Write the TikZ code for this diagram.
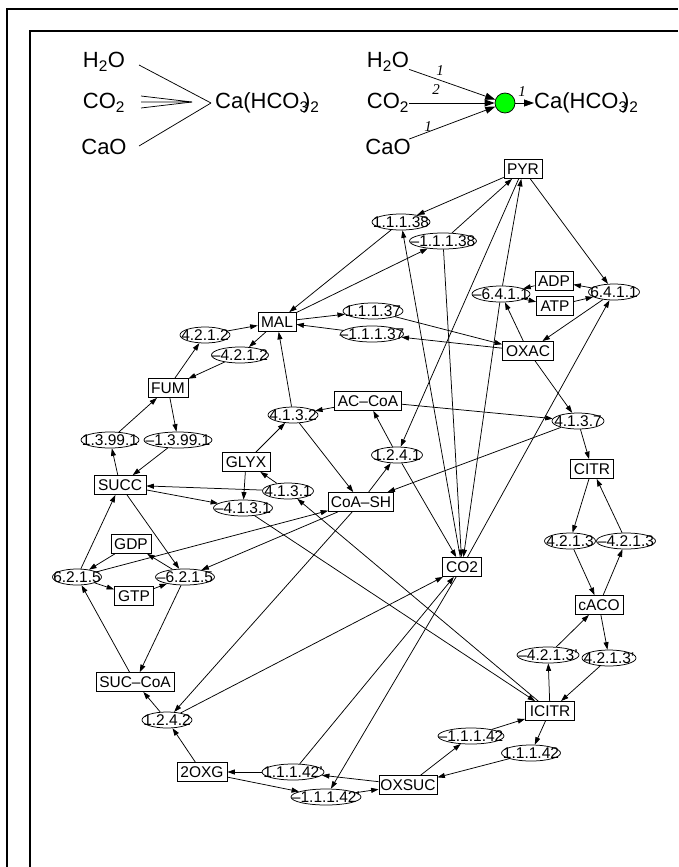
\documentclass[tikz,border=0pt]{standalone}
\usepackage{fontspec}
\setmainfont{Liberation Sans}
\newfontfamily\labelfont{Liberation Serif}
\usetikzlibrary{arrows.meta,shapes.geometric}

% text of zero size, centred on the node centre
\newcommand\ctr[1]{\makebox[0pt]{\smash{\raisebox{-0.36em}{#1}}}}

\tikzset{
  met/.style={draw, rectangle, inner sep=0pt, minimum height=19pt,
              minimum width=#1, line width=0.75pt},
  enz/.style={draw, ellipse, inner sep=0pt, minimum height=16pt,
              minimum width=#1, line width=0.75pt},
  arc/.style={-{Triangle[length=7.5pt,width=5pt]}, line width=0.75pt},
  bigarc/.style={-{Triangle[length=10pt,width=7pt]}, line width=0.75pt},
  plain/.style={line width=0.75pt},
  legend/.style={inner sep=0pt, font=\fontsize{22}{22}\selectfont},
  stoich/.style={inner sep=0pt, font=\labelfont\itshape\fontsize{15}{15}\selectfont},
  frame/.style={line width=2.5pt},
}

\begin{document}
\begin{tikzpicture}[x=1pt, y=-1pt, font=\fontsize{15.5}{15.5}\selectfont]
\useasboundingbox (0,0) rectangle (678,867);

% double frame
\draw[frame] (7,867) -- (7,9) -- (678,9);
\draw[frame] (30,867) -- (30,31) -- (678,31);

% ---------- legend, left: hyperedge drawn as a star ----------
\node[legend] (lh) at (104,62) {H\textsubscript{2}O};
\node[legend] (lc) at (104,103) {CO\textsubscript{2}};
\node[legend] (lo) at (104,147) {CaO};
\node[legend, anchor=west] (lp) at (215,103) {Ca(HCO\textsubscript{3}\kern-0.25em)\textsubscript{2}};
\coordinate (la) at (211,103);
\coordinate (lh1) at (139,65);
\coordinate (lo1) at (139,146);
\coordinate (lc1) at (141,96);
\coordinate (lc2) at (141,102);
\coordinate (lc3) at (141,108);
\coordinate (lz) at (192,102);
\draw[plain] (lh1) -- (la);
\draw[plain] (lo1) -- (la);
\draw[plain] (lc1) -- (lz) -- (lc2);
\draw[plain] (lc3) -- (lz);

% ---------- legend, right: hyperedge drawn with a reaction node ----------
\node[legend] (rh) at (388,62) {H\textsubscript{2}O};
\node[legend] (rc) at (388,103) {CO\textsubscript{2}};
\node[legend] (ro) at (388,147) {CaO};
\node[circle, draw, fill=green, inner sep=0pt, minimum size=20pt, line width=0.75pt] (g) at (505,103) {};
\node[legend, anchor=west] (rp) at (534,103) {Ca(HCO\textsubscript{3}\kern-0.25em)\textsubscript{2}};
\draw[bigarc] (rh) -- (g);
\draw[bigarc] (rc) -- (g);
\draw[bigarc] (ro) -- (g);
\draw[bigarc] (g) -- (rp);
\node[stoich] (s1) at (440,71) {1};
\node[stoich] (s2) at (436,90) {2};
\node[stoich] (s3) at (428,127) {1};
\node[stoich] (s4) at (522,92) {1};

% ---------- metabolites ----------
\node[met=38pt] (pyr)    at (523,169) {\ctr{PYR}};
\node[met=38pt] (adp)    at (554,281) {\ctr{ADP}};
\node[met=37pt] (atp)    at (555,306) {\ctr{ATP}};
\node[met=38pt] (mal)    at (277,322) {\ctr{MAL}};
\node[met=51pt] (oxac)   at (528,351) {\ctr{OXAC}};
\node[met=40pt] (fum)    at (168,388) {\ctr{FUM}};
\node[met=67pt] (accoa)  at (368,401) {\ctr{AC\textendash CoA}};
\node[met=48pt] (glyx)   at (246,462) {\ctr{GLYX}};
\node[met=43pt] (citr)   at (592,469) {\ctr{CITR}};
\node[met=52pt] (succ)   at (120,485) {\ctr{SUCC}};
\node[met=65pt] (coash)  at (361,502) {\ctr{CoA\textendash SH}};
\node[met=40pt] (gdp)    at (131,544) {\ctr{GDP}};
\node[met=39pt] (co2)    at (462,567) {\ctr{CO2}};
\node[met=39pt] (gtp)    at (134,596) {\ctr{GTP}};
\node[met=48pt] (caco)   at (599,605) {\ctr{cACO}};
\node[met=78pt] (succoa) at (135,682) {\ctr{SUC\textendash CoA}};
\node[met=49pt] (icitr)  at (550,711) {\ctr{ICITR}};
\node[met=50pt] (oxg)    at (202,772) {\ctr{2OXG}};
\node[met=58pt] (oxsuc)  at (408,785) {\ctr{OXSUC}};

% ---------- reactions ----------
\node[enz=58pt] (e11138)  at (401,222) {\ctr{1.1.1.38}};
\node[enz=67pt] (r11138)  at (443,241) {\ctr{\textendash1.1.1.38}};
\node[enz=58pt] (r6411)   at (501,294) {\ctr{\textendash6.4.1.1}};
\node[enz=51pt] (e6411)   at (614,292) {\ctr{6.4.1.1}};
\node[enz=60pt] (e11137)  at (373,311) {\ctr{1.1.1.37}};
\node[enz=63pt] (r11137)  at (372,334) {\ctr{\textendash1.1.1.37}};
\node[enz=50pt] (e4212)   at (205,335) {\ctr{4.2.1.2}};
\node[enz=57pt] (r4212)   at (240,355) {\ctr{\textendash4.2.1.2}};
\node[enz=50pt] (e4132)   at (293,415) {\ctr{4.1.3.2}};
\node[enz=52pt] (e4137)   at (578,421) {\ctr{4.1.3.7}};
\node[enz=58pt] (e13991)  at (110,440) {\ctr{1.3.99.1}};
\node[enz=68pt] (r13991)  at (178,440) {\ctr{\textendash1.3.99.1}};
\node[enz=51pt] (e1241)   at (397,455) {\ctr{1.2.4.1}};
\node[enz=51pt] (e4131)   at (288,491) {\ctr{4.1.3.1}};
\node[enz=59pt] (r4131)   at (243,508) {\ctr{\textendash4.1.3.1}};
\node[enz=49pt] (e6215)   at (77,577)  {\ctr{6.2.1.5}};
\node[enz=59pt] (r6215)   at (185,577) {\ctr{\textendash6.2.1.5}};
\node[enz=51pt] (e4213)   at (570,541) {\ctr{4.2.1.3}};
\node[enz=59pt] (r4213)   at (626,541) {\ctr{\textendash4.2.1.3}};
\node[enz=62pt] (r4213p)  at (548,655) {\ctr{\textendash4.2.1.3'}};
\node[enz=54pt] (e4213p)  at (609,658) {\ctr{4.2.1.3'}};
\node[enz=50pt] (e1242)   at (167,720) {\ctr{1.2.4.2}};
\node[enz=66pt] (r11142)  at (471,736) {\ctr{\textendash1.1.1.42}};
\node[enz=59pt] (e11142)  at (531,753) {\ctr{1.1.1.42}};
\node[enz=62pt] (e11142p) at (293,772) {\ctr{1.1.1.42'}};
\node[enz=70pt] (r11142p) at (326,797) {\ctr{\textendash1.1.1.42'}};

% ---------- connectors ----------
\foreach \a/\b in {
  pyr/e11138, co2/e11138, e11138/mal,
  mal/r11138, r11138/pyr, r11138/co2,
  pyr/e6411, co2/e6411, atp/e6411, e6411/adp, e6411/oxac,
  oxac/r6411, adp/r6411, r6411/atp, r6411/pyr, r6411/co2,
  mal/e11137, e11137/oxac,
  oxac/r11137, r11137/mal,
  fum/e4212, e4212/mal,
  mal/r4212, r4212/fum,
  succ/e13991, e13991/fum,
  fum/r13991, r13991/succ,
  glyx/e4132, accoa/e4132, e4132/mal, e4132/coash,
  icitr/e4131, e4131/glyx, e4131/succ,
  succ/r4131, glyx/r4131, r4131/icitr,
  oxac/e4137, accoa/e4137, e4137/citr, e4137/coash,
  pyr/e1241, coash/e1241, e1241/accoa, e1241/co2,
  citr/e4213, e4213/caco,
  caco/r4213, r4213/citr,
  caco/e4213p, e4213p/icitr,
  icitr/r4213p, r4213p/caco,
  icitr/e11142, e11142/oxsuc,
  oxsuc/r11142, r11142/icitr,
  oxsuc/e11142p, e11142p/oxg, e11142p/co2,
  oxg/r11142p, co2/r11142p, r11142p/oxsuc,
  oxg/e1242, coash/e1242, e1242/succoa, e1242/co2,
  succoa/e6215, gdp/e6215, e6215/gtp, e6215/succ, e6215/coash,
  succ/r6215, gtp/r6215, coash/r6215, r6215/gdp, r6215/succoa}
  \draw[arc] (\a) -- (\b);

\end{tikzpicture}
\end{document}
